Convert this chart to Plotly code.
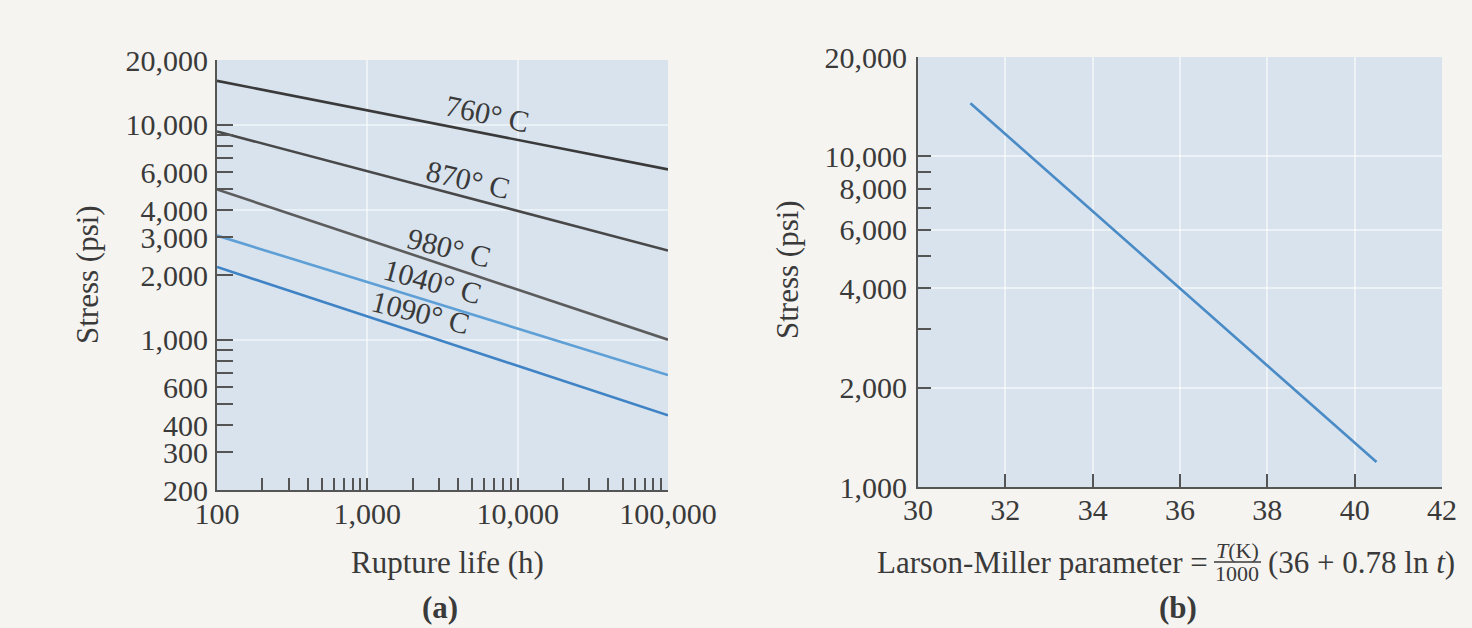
import math
import plotly.graph_objects as go

# ---------------- data ----------------
# (a) rupture life vs stress, log-log
rupture_life_h = [100, 100000]
temps_label = ["760° C", "870° C", "980° C", "1040° C", "1090° C"]
stress_760 = [16000, 6200]
stress_870 = [9300, 2600]
stress_980 = [5000, 1000]
stress_1040 = [3050, 685]
stress_1090 = [2180, 445]

# (b) Larson-Miller master curve
lm_param = [31.2, 40.5]
lm_stress = [14500, 1190]

# tick definitions
a_x_ticks = [m * 10 ** e for e in (2, 3, 4) for m in range(1, 10)] + [100000]
a_x_labels = {100: "100", 1000: "1,000", 10000: "10,000", 100000: "100,000"}
a_y_ticks = [m * 10 ** e for e in (2, 3) for m in range(2, 10)] + [1000, 10000, 20000]
a_y_labels = {200: "200", 300: "300", 400: "400", 600: "600", 1000: "1,000",
              2000: "2,000", 3000: "3,000", 4000: "4,000", 6000: "6,000",
              10000: "10,000", 20000: "20,000"}
b_x_ticks = [30, 32, 34, 36, 38, 40, 42]
b_y_ticks = [1000, 2000, 3000, 4000, 5000, 6000, 7000, 8000, 9000, 10000, 20000]
b_y_labels = {1000: "1,000", 2000: "2,000", 4000: "4,000", 6000: "6,000",
              8000: "8,000", 10000: "10,000", 20000: "20,000"}

# ---------------- style ----------------
W, H = 1472, 628
FONT = "Liberation Serif, Times New Roman, serif"
TXT = "#3a3a3a"
AX = "#555555"
PLOT_BG = "#d8e3ee"
PAPER_BG = "#f5f4f1"
FS = 30
FT = 31

line_colors = ["#3a3a3a", "#484848", "#5c5c5c", "#5e9fd6", "#3f83c4"]
series = [stress_760, stress_870, stress_980, stress_1040, stress_1090]


def px(x):
    return x / W


def py(y):
    return 1 - y / H


fig = go.Figure()
for name, s, c in zip(temps_label, series, line_colors):
    fig.add_trace(go.Scatter(x=rupture_life_h, y=s, mode="lines", name=name,
                             line=dict(color=c, width=2.6),
                             xaxis="x", yaxis="y", showlegend=False))

fig.add_trace(go.Scatter(x=lm_param, y=lm_stress, mode="lines",
                         line=dict(color="#4a8bc6", width=2.6),
                         xaxis="x2", yaxis="y2", showlegend=False))

common_axis = dict(showline=True, linecolor=AX, linewidth=2, ticks="inside",
                   tickcolor=AX, tickwidth=2, zeroline=False, automargin=False,
                   tickfont=dict(family=FONT, size=FS, color=TXT),
                   showgrid=False, fixedrange=True)

fig.update_layout(
    width=W, height=H,
    margin=dict(l=0, r=0, t=0, b=0, autoexpand=False),
    paper_bgcolor=PAPER_BG, plot_bgcolor=PLOT_BG,
    font=dict(family=FONT, size=FS, color=TXT),
    xaxis=dict(common_axis, type="log", domain=[px(217), px(668)],
               range=[2, 5], anchor="y",
               tickmode="array", tickvals=a_x_ticks,
               ticktext=[a_x_labels.get(v, "") for v in a_x_ticks],
               ticklen=12, ticklabelstandoff=-4,
               minor=dict(tickmode="array", tickvals=[1000, 10000], ticks="",
                          showgrid=True, gridcolor="rgba(255,255,255,0.55)", gridwidth=2)),
    yaxis=dict(common_axis, type="log", domain=[py(490), py(60)],
               range=[math.log10(200), math.log10(20000)], anchor="x",
               tickmode="array", tickvals=a_y_ticks,
               ticktext=[a_y_labels.get(v, "") for v in a_y_ticks],
               ticklen=16, ticklabelstandoff=1,
               minor=dict(tickmode="array", tickvals=[1000, 4000, 10000], ticks="",
                          showgrid=True, gridcolor="rgba(255,255,255,0.45)", gridwidth=2)),
    xaxis2=dict(common_axis, type="linear", domain=[px(918), px(1442)],
                range=[30, 42], anchor="y2",
                tickmode="array", tickvals=b_x_ticks,
                ticktext=[str(v) for v in b_x_ticks],
                ticklen=13, ticklabelstandoff=-5,
                minor=dict(tickmode="array", tickvals=[32, 34, 36, 38, 40], ticks="",
                           showgrid=True, gridcolor="rgba(255,255,255,0.55)", gridwidth=2)),
    yaxis2=dict(common_axis, type="log", domain=[py(487), py(57)],
                range=[3, math.log10(20000)], anchor="x2",
                tickmode="array", tickvals=b_y_ticks,
                ticktext=[b_y_labels.get(v, "") for v in b_y_ticks],
                ticklen=13, ticklabelstandoff=3,
                minor=dict(tickmode="array", tickvals=[2000, 4000, 6000, 10000], ticks="",
                           showgrid=True, gridcolor="rgba(255,255,255,0.55)", gridwidth=2)),
)

ann = []


def text(x, y, s, size=FT, angle=0, xanchor="center", bold=False):
    if bold:
        s = "<b>" + s + "</b>"
    ann.append(dict(x=px(x), y=py(y), xref="paper", yref="paper", text=s,
                    showarrow=False, textangle=angle, xanchor=xanchor,
                    yanchor="middle", font=dict(family=FONT, size=size, color=TXT)))


# curve labels in (a)
label_pos = [(487, 114, 12), (468, 179, 13), (449, 247, 14), (433, 281, 15), (421, 312, 14)]
for lbl, (x, y, a) in zip(temps_label, label_pos):
    text(x, y, lbl, size=FS, angle=a)

# axis titles
text(87, 275, "Stress (psi)", angle=-90)
text(787, 270, "Stress (psi)", angle=-90)
text(447, 562, "Rupture life (h)")
text(1210, 562, "Larson-Miller parameter =", xanchor="right")
text(1237, 550, "<i>T</i>(K)", size=22)
text(1237, 573, "1000", size=22)
text(1266, 562, "(36 + 0.78 ln <i>t</i>)", xanchor="left")
text(440, 607, "(a)", size=31, bold=True)
text(1178, 607, "(b)", size=31, bold=True)
fig.update_layout(annotations=ann)

# fraction bar
fig.add_shape(type="line", xref="paper", yref="paper",
              x0=px(1214), x1=px(1261), y0=py(562), y1=py(562),
              line=dict(color=TXT, width=1.5))

fig.write_html("out.html")
